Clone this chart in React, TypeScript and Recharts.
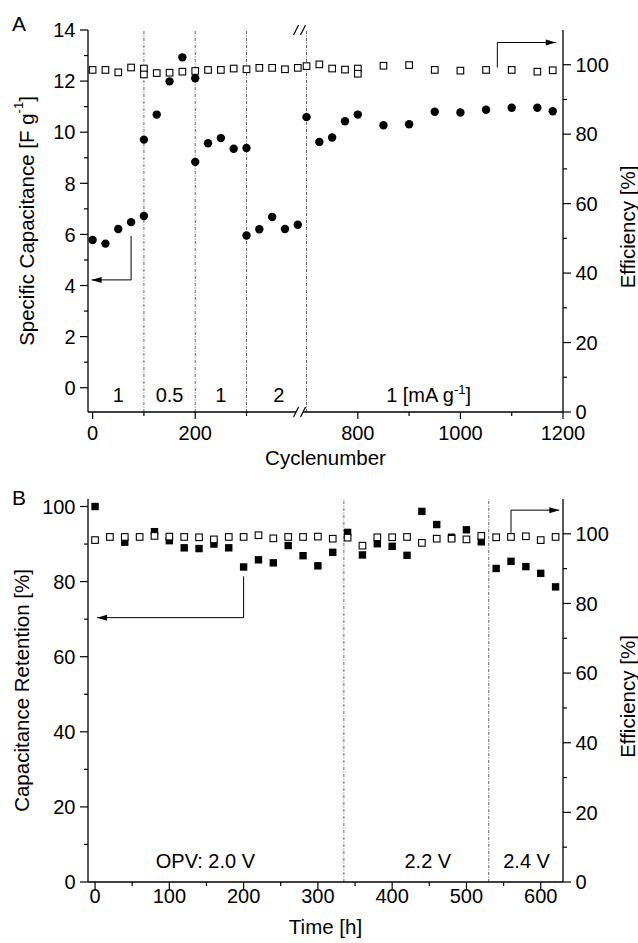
import React from "react";
import { ScatterChart, Scatter, XAxis, YAxis, ReferenceLine, ReferenceDot } from "recharts";

const FONT = "'Liberation Sans', Arial, Helvetica, sans-serif";
const TICK_FS = 20;
const TITLE_FS = 20.5;

// ---- Panel A: specific capacitance / efficiency vs cycle number
const capCycles = [0, 25, 50, 75, 100, 100, 125, 150, 175, 200, 200, 225, 250, 275, 300, 300, 325, 350, 375, 400, 700, 725, 750, 775, 800, 850, 900, 950, 1000, 1050, 1100, 1150, 1180];
const capValues = [5.78, 5.64, 6.21, 6.48, 6.72, 9.71, 10.69, 11.99, 12.93, 12.11, 8.84, 9.57, 9.77, 9.35, 9.38, 5.96, 6.2, 6.68, 6.21, 6.38, 10.59, 9.62, 9.79, 10.43, 10.69, 10.27, 10.31, 10.8, 10.77, 10.88, 10.96, 10.96, 10.82];
const effACycles = [0, 25, 50, 75, 100, 100, 125, 150, 175, 200, 225, 250, 275, 300, 325, 350, 375, 400, 700, 725, 750, 775, 800, 800, 850, 900, 950, 1000, 1050, 1100, 1150, 1180];
const effAValues = [98.5, 98.5, 97.8, 99.2, 98.9, 97.2, 97.6, 97.7, 98.0, 98.2, 98.5, 98.5, 98.9, 98.7, 99.1, 99.1, 98.7, 99.1, 99.6, 100.1, 98.9, 98.6, 98.9, 97.4, 99.7, 99.9, 98.5, 98.3, 98.5, 98.5, 98.0, 98.4];
const rateSwitchCycles = [100, 200, 300, 700];
const rateLabels = ["1", "0.5", "1", "2"];
const rateLabelCycles = [50, 150, 250, 363];
const cycleTicks = [0, 100, 200, 300, 800, 900, 1000, 1100, 1200];
const cycleMajor = [0, 200, 800, 1000, 1200];

// ---- Panel B: capacitance retention / efficiency vs time
const retTimes = [0, 40, 80, 100, 120, 140, 160, 180, 200, 220, 240, 260, 280, 300, 320, 340, 360, 380, 400, 420, 440, 460, 480, 500, 520, 540, 560, 580, 600, 620];
const retValues = [100.0, 90.5, 93.3, 90.9, 89.0, 88.8, 90.0, 89.0, 83.9, 85.8, 85.0, 89.6, 86.9, 84.2, 87.8, 93.1, 87.1, 90.1, 89.4, 87.0, 98.7, 95.2, 91.8, 93.8, 90.6, 83.5, 85.4, 84.0, 82.2, 78.6];
const effBTimes = [0, 20, 40, 60, 80, 100, 120, 140, 160, 180, 200, 220, 240, 260, 280, 300, 320, 340, 360, 380, 400, 420, 440, 460, 480, 500, 520, 540, 560, 580, 600, 620];
const effBValues = [98.2, 99.1, 99.1, 99.1, 99.4, 99.2, 99.1, 99.0, 98.4, 99.1, 99.1, 99.6, 98.7, 99.1, 99.1, 99.2, 98.6, 98.9, 96.6, 99.0, 99.0, 99.1, 97.4, 98.6, 98.6, 98.4, 99.4, 99.0, 99.1, 99.3, 98.2, 99.1];
const voltageSwitchTimes = [335, 530];
const voltageLabels = ["OPV: 2.0 V", "2.2 V", "2.4 V"];
const voltageLabelTimes = [148.6, 448, 581];
const timeTicks = [0, 50, 100, 150, 200, 250, 300, 350, 400, 450, 500, 550, 600];
const timeMajor = [0, 100, 200, 300, 400, 500, 600];

const pctTicks = [0, 10, 20, 30, 40, 50, 60, 70, 80, 90, 100];
const pctMajor = [0, 20, 40, 60, 80, 100];
const capTicks = [0, 1, 2, 3, 4, 5, 6, 7, 8, 9, 10, 11, 12, 13, 14];
const capMajor = [0, 2, 4, 6, 8, 10, 12, 14];

// axis break in panel A: cycles 417..700 are cut out
const BREAK_FROM = 417;
const BREAK_TO = 700;
const toAxis = (c: number) => (c <= BREAK_FROM ? c : c - (BREAK_TO - BREAK_FROM));
const fromAxis = (u: number) => (u <= BREAK_FROM ? u : u + (BREAK_TO - BREAK_FROM));

const capData = capCycles.map((c, i) => ({ x: toAxis(c), y: capValues[i] }));
const effAData = effACycles.map((c, i) => ({ x: toAxis(c), y: effAValues[i] }));
const retData = retTimes.map((t, i) => ({ x: t, y: retValues[i] }));
const effBData = effBTimes.map((t, i) => ({ x: t, y: effBValues[i] }));

// axis-pointer arrows (path in data units, last point is the tip)
const arrowACap = [{ x: 75, y: 5.94 }, { x: 75, y: 4.22 }, { x: -2, y: 4.22 }];
const arrowAEff = [{ x: toAxis(1072), y: 99.2 }, { x: toAxis(1072), y: 106.4 }, { x: toAxis(1186), y: 106.4 }];
const arrowBRet = [{ x: 200, y: 81.4 }, { x: 200, y: 70.4 }, { x: 2.7, y: 70.4 }];
const arrowBEff = [{ x: 560, y: 100.3 }, { x: 560, y: 106.8 }, { x: 625, y: 106.8 }];

const txt = { fontFamily: FONT, fill: "#000" };

function xTick(majors: number[], fmt: (v: number) => string, labelDy: number, labels = true, inward = false) {
  return (p: any) => {
    const v = p.payload.value;
    const major = majors.includes(v);
    const len = inward ? 4 : major ? 7 : 4;
    return (
      <g>
        <line x1={p.x} x2={p.x} y1={p.y} y2={p.y + len} stroke="#000" strokeWidth={1.2} />
        {labels && major && (
          <text x={p.x} y={p.y + labelDy} textAnchor="middle" fontSize={TICK_FS} {...txt}>
            {fmt(v)}
          </text>
        )}
      </g>
    );
  };
}

function yTick(majors: number[], side: "left" | "right") {
  return (p: any) => {
    const v = p.payload.value;
    const major = majors.includes(v);
    const s = side === "left" ? -1 : 1;
    const len = major ? 8 : 4;
    return (
      <g>
        <line x1={p.x} x2={p.x + s * len} y1={p.y} y2={p.y} stroke="#000" strokeWidth={1.2} />
        {major && (
          <text x={p.x + s * 12.5} y={p.y} dy="0.36em" textAnchor={side === "left" ? "end" : "start"} fontSize={TICK_FS} {...txt}>
            {v}
          </text>
        )}
      </g>
    );
  };
}

const yTitle = (content: React.ReactNode, dx: number, dy = 0) => (props: any) => {
  const vb = props.viewBox;
  const cx = vb.x + dx;
  const cy = vb.y + vb.height / 2 + dy;
  return (
    <text x={cx} y={cy} transform={`rotate(-90 ${cx} ${cy})`} textAnchor="middle" dominantBaseline="central" fontSize={TITLE_FS} {...txt}>
      {content}
    </text>
  );
};

const xTitle = (text: string, baseline: number) => (props: any) => {
  const vb = props.viewBox;
  return (
    <text x={vb.x + vb.width / 2} y={vb.y + baseline} textAnchor="middle" fontSize={TITLE_FS} {...txt}>
      {text}
    </text>
  );
};

const Circle = (p: any) => <circle cx={p.cx} cy={p.cy} r={4.2} fill="#000" />;
const FilledSquare = (p: any) => <rect x={p.cx - 3.7} y={p.cy - 3.7} width={7.4} height={7.4} fill="#000" />;
const OpenSquare = (p: any) => (
  <rect x={p.cx - 3.3} y={p.cy - 3.3} width={6.6} height={6.6} fill="#fff" stroke="#000" strokeWidth={1.1} />
);

// arrow: invisible points joined by a line, arrow head drawn on the last point
const arrowShape = (dir: "left" | "right", n: number) => (p: any) => {
  if (p.index !== n - 1) return <g />;
  const s = dir === "left" ? 1 : -1;
  return <polygon points={`${p.cx},${p.cy} ${p.cx + s * 10},${p.cy - 3} ${p.cx + s * 10},${p.cy + 3}`} fill="#000" />;
};

const BreakMark = (p: any) => {
  const c = p.cx - 7;
  const y = p.cy;
  return (
    <g>
      <polygon points={`${c - 6},${y + 5} ${c - 1},${y - 5} ${c + 6},${y - 5} ${c + 1},${y + 5}`} fill="#fff" />
      <line x1={c - 6} y1={y + 5} x2={c - 1} y2={y - 5} stroke="#000" strokeWidth={1.2} />
      <line x1={c + 1} y1={y + 5} x2={c + 6} y2={y - 5} stroke="#000" strokeWidth={1.2} />
    </g>
  );
};

const textAt = (content: React.ReactNode) => (p: any) => (
  <text x={p.cx} y={p.cy} textAnchor="middle" fontSize={TICK_FS} {...txt}>
    {content}
  </text>
);

const DASH = { stroke: "#555", strokeWidth: 0.9, strokeDasharray: "3 1.5 1 1.5" };
const axisLine = { stroke: "#000", strokeWidth: 1.3 };
const arrowLine = { stroke: "#000", strokeWidth: 1 };

function PanelA() {
  return (
    <ScatterChart width={638} height={478} margin={{ top: 30, right: 0, bottom: 0, left: 0 }}>
      <XAxis
        type="number"
        dataKey="x"
        domain={[-9, 917]}
        allowDataOverflow
        ticks={cycleTicks.map(toAxis)}
        interval={0}
        tickSize={0}
        tickMargin={0}
        tickLine={false}
        axisLine={axisLine}
        height={66}
        tick={xTick(cycleMajor.map(toAxis), (v) => String(fromAxis(v)), 28)}
        label={xTitle("Cyclenumber", 53)}
      />
      <XAxis xAxisId="top" orientation="top" type="number" domain={[-9, 917]} allowDataOverflow height={0} tick={false} tickLine={false} axisLine={axisLine} />
      <YAxis
        yAxisId="left"
        type="number"
        dataKey="y"
        domain={[-0.95, 14]}
        allowDataOverflow
        ticks={capTicks}
        interval={0}
        width={88}
        tickSize={0}
        tickMargin={0}
        tickLine={false}
        axisLine={axisLine}
        tick={yTick(capMajor, "left")}
        label={yTitle(
          <>
            <tspan>Specific Capacitance [F g</tspan>
            <tspan dy={-8} fontSize={13}>-1</tspan>
            <tspan dy={8}>]</tspan>
          </>,
          26
        )}
      />
      <YAxis
        yAxisId="right"
        orientation="right"
        type="number"
        dataKey="y"
        domain={[0, 110]}
        allowDataOverflow
        ticks={pctTicks}
        interval={0}
        width={75}
        tickSize={0}
        tickMargin={0}
        tickLine={false}
        axisLine={axisLine}
        tick={yTick(pctMajor, "right")}
        label={yTitle("Efficiency [%]", 64, 6)}
      />
      {rateSwitchCycles.map((c) => (
        <ReferenceLine key={c} x={toAxis(c)} yAxisId="left" {...DASH} />
      ))}
      <Scatter data={capData} yAxisId="left" shape={Circle} isAnimationActive={false} />
      <Scatter data={effAData} yAxisId="right" shape={OpenSquare} isAnimationActive={false} />

      <Scatter data={arrowACap} yAxisId="left" line={arrowLine} shape={arrowShape("left", arrowACap.length)} isAnimationActive={false} />
      <Scatter data={arrowAEff} yAxisId="right" line={arrowLine} shape={arrowShape("right", arrowAEff.length)} isAnimationActive={false} />

      {rateLabels.map((t, i) => (
        <ReferenceDot key={i} yAxisId="left" x={rateLabelCycles[i]} y={-0.54} shape={textAt(t)} />
      ))}
      <ReferenceDot
        yAxisId="left"
        x={toAxis(938)}
        y={-0.54}
        shape={textAt(
          <>
            <tspan>1  [mA g</tspan>
            <tspan dy={-8} fontSize={13}>-1</tspan>
            <tspan dy={8}>]</tspan>
          </>
        )}
      />

      <ReferenceDot yAxisId="left" x={BREAK_FROM} y={14} shape={BreakMark} />
      <ReferenceDot yAxisId="left" x={BREAK_FROM} y={-0.95} shape={BreakMark} />
    </ScatterChart>
  );
}

function PanelB() {
  return (
    <ScatterChart width={638} height={465} margin={{ top: 21, right: 0, bottom: 0, left: 0 }}>
      <XAxis
        type="number"
        dataKey="x"
        domain={[-9.5, 630]}
        allowDataOverflow
        ticks={timeTicks}
        interval={0}
        tickSize={0}
        tickMargin={0}
        tickLine={false}
        axisLine={axisLine}
        height={61}
        tick={xTick(timeMajor, (v) => String(v), 21)}
        label={xTitle("Time [h]", 52)}
      />
      <XAxis
        xAxisId="top"
        orientation="top"
        type="number"
        domain={[-9.5, 630]}
        allowDataOverflow
        ticks={timeTicks}
        interval={0}
        height={0}
        tickSize={0}
        tickMargin={0}
        tickLine={false}
        axisLine={axisLine}
        tick={xTick(timeMajor, (v) => String(v), 0, false, true)}
      />
      <YAxis
        yAxisId="left"
        type="number"
        dataKey="y"
        domain={[0, 102]}
        allowDataOverflow
        ticks={pctTicks}
        interval={0}
        width={88}
        tickSize={0}
        tickMargin={0}
        tickLine={false}
        axisLine={axisLine}
        tick={yTick(pctMajor, "left")}
        label={yTitle("Capacitance Retention [%]", 21)}
      />
      <YAxis
        yAxisId="right"
        orientation="right"
        type="number"
        dataKey="y"
        domain={[0, 110]}
        allowDataOverflow
        ticks={pctTicks}
        interval={0}
        width={75}
        tickSize={0}
        tickMargin={0}
        tickLine={false}
        axisLine={axisLine}
        tick={yTick(pctMajor, "right")}
        label={yTitle("Efficiency [%]", 64, 6)}
      />
      {voltageSwitchTimes.map((t) => (
        <ReferenceLine key={t} x={t} yAxisId="left" {...DASH} />
      ))}
      <Scatter data={retData} yAxisId="left" shape={FilledSquare} isAnimationActive={false} />
      <Scatter data={effBData} yAxisId="right" shape={OpenSquare} isAnimationActive={false} />

      <Scatter data={arrowBRet} yAxisId="left" line={arrowLine} shape={arrowShape("left", arrowBRet.length)} isAnimationActive={false} />
      <Scatter data={arrowBEff} yAxisId="right" line={arrowLine} shape={arrowShape("right", arrowBEff.length)} isAnimationActive={false} />

      {voltageLabels.map((t, i) => (
        <ReferenceDot key={i} yAxisId="left" x={voltageLabelTimes[i]} y={3.7} shape={textAt(t)} />
      ))}
    </ScatterChart>
  );
}

export default function App() {
  return (
    <div style={{ position: "relative", width: 638, height: 943, background: "#fff" }}>
      <style>{`body{margin:0;background:#fff}`}</style>
      <div style={{ position: "absolute", left: 0, top: 0 }}>
        <PanelA />
      </div>
      <div style={{ position: "absolute", left: 0, top: 478 }}>
        <PanelB />
      </div>
      <svg width={638} height={943} style={{ position: "absolute", left: 0, top: 0, pointerEvents: "none" }}>
        <text x={12} y={31} fontSize={21} {...txt}>A</text>
        <text x={12} y={505} fontSize={21} {...txt}>B</text>
      </svg>
    </div>
  );
}
